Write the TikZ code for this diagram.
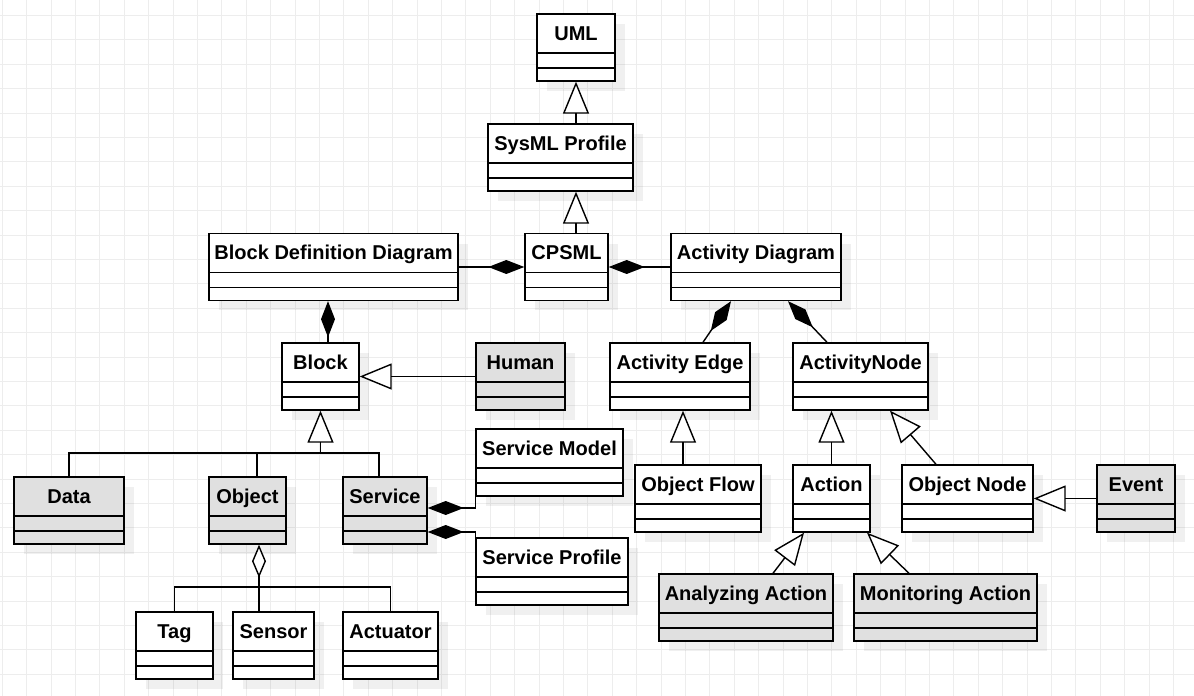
\documentclass[tikz,border=0pt]{standalone}
\usepackage{fontspec}
\setmainfont{Liberation Sans}
\usepackage{tikz}
\usetikzlibrary{arrows.meta,shadows}

\tikzset{
  umlbox/.style={draw,line width=0.8pt,fill=white,
    minimum height=1.34cm,inner xsep=0pt,inner ysep=0pt,
    text height=0.52cm,text depth=0.82cm,
    font=\bfseries\fontsize{11.4}{13}\selectfont,
    drop shadow={shadow xshift=0.2cm,shadow yshift=-0.2cm,fill=black,opacity=0.06},
    path picture={
      \draw[line width=0.8pt] ([yshift=-0.78cm]path picture bounding box.north west) -- ([yshift=-0.78cm]path picture bounding box.north east);
      \draw[line width=0.8pt] ([yshift=-1.08cm]path picture bounding box.north west) -- ([yshift=-1.08cm]path picture bounding box.north east);
    }},
  graybox/.style={umlbox,fill=black!12},
  link/.style={line width=0.8pt},
  gen/.style={link,-{Triangle[open,fill=white,length=0.64cm,width=0.52cm]}},
  comp/.style={link,-{Diamond[length=0.72cm,width=0.28cm]}},
  agg/.style={link,-{Diamond[open,fill=white,length=0.66cm,width=0.28cm]}},
  gridline/.style={black!7,line width=0.5pt}
}

\begin{document}
\begin{tikzpicture}[x=0.02cm,y=-0.02cm]
        % Background grid
        \useasboundingbox (0,0) rectangle (1194,696);
        \fill[white] (0,0) rectangle (1194,696);
        \foreach \k in {0,...,48}
          \draw[gridline] ({2.3+24.4*\k},0) -- ++(0,696);
        \foreach \k in {0,...,27}
          \draw[gridline] (0,{15.5+24.4*\k}) -- ++(1194,0);

        % Profiles
        \node[umlbox,minimum width=1.56cm] (uml) at (576,47.5) {UML};
        \node[umlbox,minimum width=2.90cm] (sysml) at (560.5,157.5) {SysML Profile};
        \node[umlbox,minimum width=1.66cm] (cpsml) at (566.5,267) {CPSML};
        \node[umlbox,minimum width=4.98cm] (bdd) at (333.5,267) {Block Definition Diagram};
        \node[umlbox,minimum width=3.40cm] (actdiag) at (756,267) {Activity Diagram};

        % Block side
        \node[umlbox,minimum width=1.54cm] (block) at (320.5,376.5) {Block};
        \node[graybox,minimum width=1.78cm] (human) at (520.5,376.5) {Human};
        \node[graybox,minimum width=2.20cm] (data) at (69,510.5) {Data};
        \node[graybox,minimum width=1.54cm] (object) at (247.5,510.5) {Object};
        \node[graybox,minimum width=1.68cm] (service) at (385,510.5) {Service};
        \node[umlbox,minimum width=2.94cm] (smodel) at (549.5,462.5) {Service Model};
        \node[umlbox,minimum width=3.04cm] (sprofile) at (552,571.5) {Service Profile};
        \node[umlbox,minimum width=1.54cm] (tag) at (174.5,645.5) {Tag};
        \node[umlbox,minimum width=1.62cm] (sensor) at (273.5,645.5) {Sensor};
        \node[umlbox,minimum width=1.90cm] (actuator) at (390.5,645.5) {Actuator};

        % Activity side
        \node[umlbox,minimum width=2.80cm] (actedge) at (680,376.5) {Activity Edge};
        \node[umlbox,minimum width=2.70cm] (actnode) at (860.5,376.5) {ActivityNode};
        \node[umlbox,minimum width=2.52cm] (objflow) at (698,498.5) {Object Flow};
        \node[umlbox,minimum width=1.54cm] (action) at (831.5,498.5) {Action};
        \node[umlbox,minimum width=2.62cm] (objnode) at (967.5,498.5) {Object Node};
        \node[graybox,minimum width=1.56cm] (event) at (1136,498.5) {Event};
        \node[graybox,minimum width=3.48cm] (analyzing) at (746,607.5) {Analyzing Action};
        \node[graybox,minimum width=3.66cm] (monitoring) at (945.5,607.5) {Monitoring Action};

        % Generalizations up to UML
        \draw[gen] (sysml.north -| uml.south) -- (uml.south);
        \draw[gen] (cpsml.north -| uml.south) -- (sysml.south -| uml.south);

        % Compositions of CPSML
        \draw[comp] (bdd.east) -- (cpsml.west);
        \draw[comp] (actdiag.west) -- (cpsml.east);
        \draw[comp] ([xshift=0.15cm]block.north) -- ([xshift=0.15cm]block.north |- bdd.south);

        % Block hierarchy
        \draw[gen] (human.west) -- (block.east);
        \coordinate (blockbar) at (320.5,453);
        \draw[gen] (blockbar) -- (block.south);
        \draw[link] (data.north) |- (blockbar);
        \draw[link] ([xshift=-0.12cm]service.north) |- (blockbar);
        \draw[link] ([xshift=0.19cm]object.north) -- ([xshift=0.19cm]object.north |- blockbar);
        \draw[comp] (smodel.south west) |- ([yshift=0.05cm]service.east);
        \draw[comp] (sprofile.north west) |- ([yshift=-0.43cm]service.east);

        % Object parts
        \coordinate (objbar) at (259,587);
        \draw[agg] (objbar) -- (objbar |- object.south);
        \draw[link] (tag.north) |- (objbar) -| (actuator.north);
        \draw[link] (objbar) -- (objbar |- sensor.north);

        % Activity hierarchy
        \draw[comp] ([xshift=0.46cm]actedge.north) -- ([xshift=-0.5cm]actdiag.south);
        \draw[comp] ([xshift=-0.67cm]actnode.north) -- ([xshift=0.64cm]actdiag.south);
        \draw[gen] ([xshift=-0.3cm]objflow.north) -- ([xshift=-0.3cm]objflow.north |- actedge.south);
        \draw[gen] (action.north) -- (action.north |- actnode.south);
        \draw[gen] ([xshift=-0.63cm]objnode.north) -- ([xshift=0.59cm]actnode.south);
        \draw[gen] (event.west) -- (objnode.east);
        \draw[gen] ([xshift=0.54cm]analyzing.north) -- ([xshift=-0.55cm]action.south);
        \draw[gen] ([xshift=-0.73cm]monitoring.north) -- ([xshift=0.71cm]action.south);
\end{tikzpicture}
\end{document}
